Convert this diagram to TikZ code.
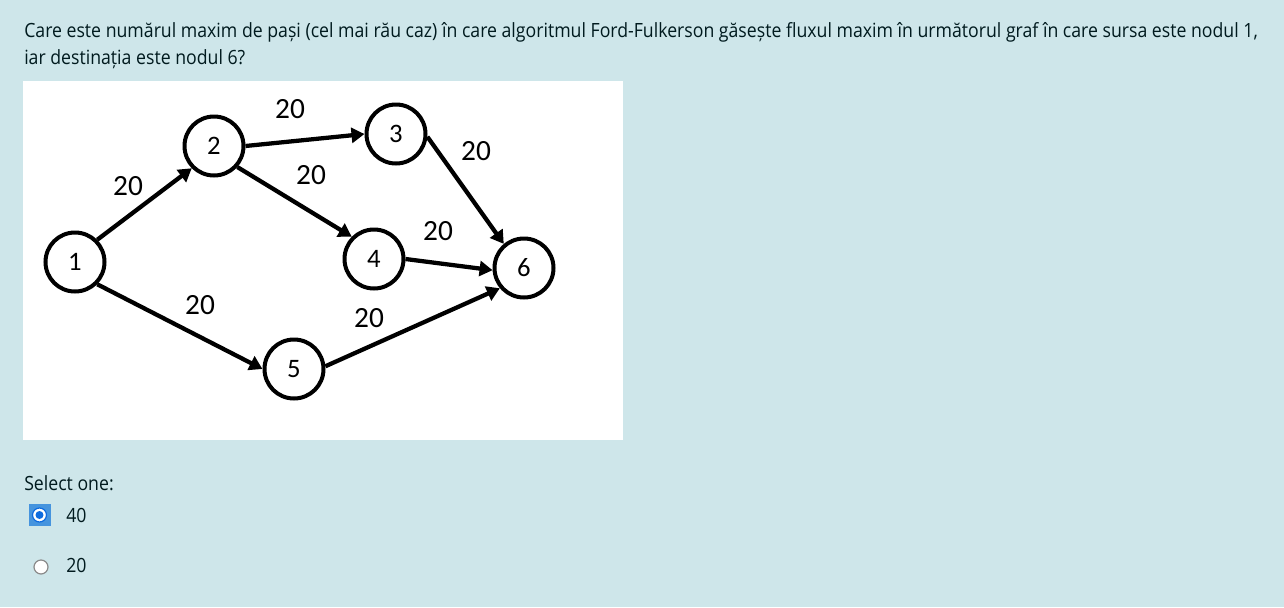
\documentclass[tikz,border=0pt]{standalone}
\usepackage{fontspec}
\usepackage{graphicx}
\setmainfont{Open Sans}
\newfontfamily\graphfont{Carlito}
\usetikzlibrary{arrows.meta}
\definecolor{bg}{RGB}{206,230,234}
\definecolor{txt}{RGB}{0,26,30}
\definecolor{selblue}{RGB}{69,148,222}
\definecolor{radblue}{RGB}{15,108,222}
\definecolor{radgray}{RGB}{138,138,138}
\newcommand{\qsc}[1]{\scalebox{0.9025}[1]{#1}}
\begin{document}
\begin{tikzpicture}[x=0.75pt,y=-0.75pt,
  vert/.style={circle, draw=black, line width=3pt, minimum size=44.25pt, inner sep=0pt, fill=white, font=\graphfont\fontsize{20}{20}\selectfont},
  arcline/.style={line width=3.2pt, -{Triangle[length=9.75pt,width=11.25pt]}},
  wlabel/.style={inner sep=0pt, font=\graphfont\fontsize{22}{22}\selectfont},
  qtext/.style={anchor=base west, inner sep=0pt, text=txt, font=\fontsize{14.7}{16}\selectfont}]
\fill[bg] (0,0) rectangle (1284,607);
\useasboundingbox (0,0) rectangle (1284,607);
\fill[white] (23,81) rectangle (623,440);
% question
\node[qtext] (q1) at (24,37.5) {\qsc{Care este numărul maxim de pași (cel mai rău caz) în care algoritmul Ford-Fulkerson găsește fluxul maxim în următorul graf în care sursa este nodul 1,}};
\node[qtext] (q2) at (24,64.5) {\qsc{iar destinația este nodul 6?}};
% graph
\node[vert] (n1) at (75,262) {1};
\node[vert] (n2) at (214,146) {2};
\node[vert] (n3) at (396,134) {3};
\node[vert] (n4) at (374,259) {4};
\node[vert] (n5) at (294,369) {5};
\node[vert] (n6) at (524,268) {6};
\draw[arcline] (n1.45) -- (n2.-135);
\draw[arcline] (n2.0) -- (n3.180);
\draw[arcline] (n2.-42) -- (n4.135);
\draw[arcline] (n3.-5) -- (n6.130);
\draw[arcline] (n4.0) -- (n6.184);
\draw[arcline] (n1.-45) -- (n5.180);
\draw[arcline] (n5.5) -- (n6.220);
\node[wlabel] (c23) at (290,109) {20};
\node[wlabel] (c36) at (476,151) {20};
\node[wlabel] (c24) at (311,175) {20};
\node[wlabel] (c12) at (128,186) {20};
\node[wlabel] (c46) at (438,231) {20};
\node[wlabel] (c15) at (200,305) {20};
\node[wlabel] (c56) at (369,318) {20};
% answers
\node[qtext] (sel) at (24,490.5) {\qsc{Select one:}};
\node[fill=selblue, minimum size=16.5pt, inner sep=0pt] (box1) at (39.5,515) {};
\node[circle, draw=radblue, fill=white, line width=0.9pt, minimum size=10.5pt, inner sep=0pt] (r1) at (box1.center) {};
\node[circle, fill=radblue, minimum size=6pt, inner sep=0pt] (d1) at (r1.center) {};
\node[qtext] (a1) at (66,522) {\qsc{40}};
\node[circle, draw=radgray, fill=white, line width=0.9pt, minimum size=10.5pt, inner sep=0pt] (r2) at (41,567) {};
\node[qtext] (a2) at (66,572.5) {\qsc{20}};
\end{tikzpicture}
\end{document}
